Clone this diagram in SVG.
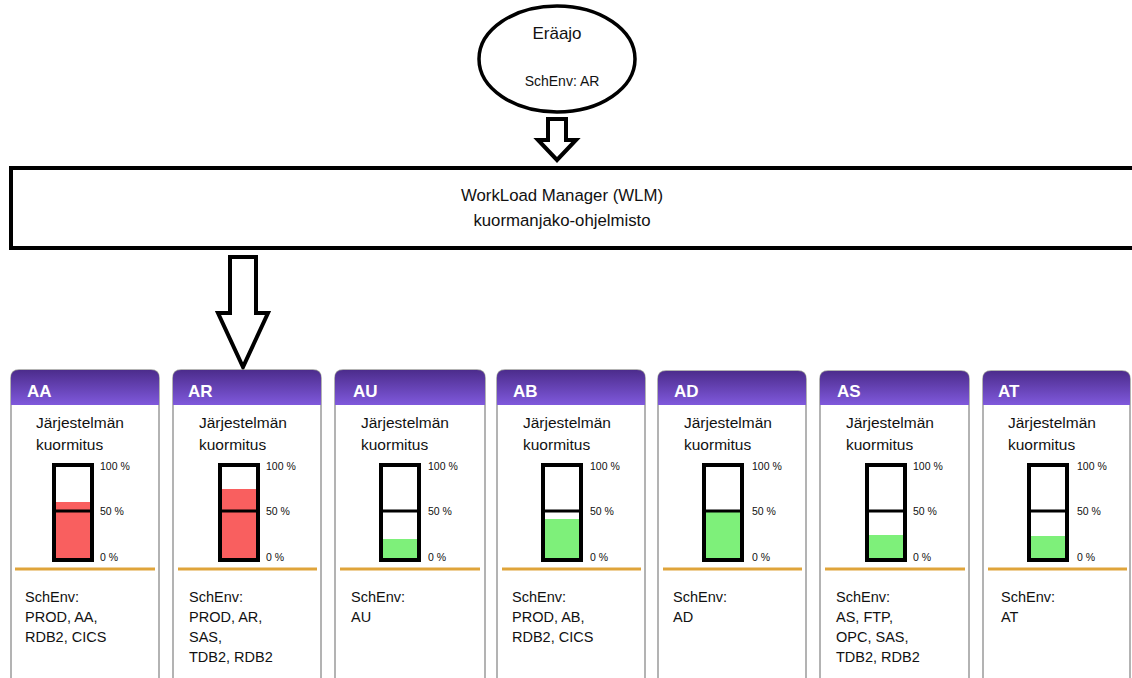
<svg xmlns="http://www.w3.org/2000/svg" width="1132" height="678" viewBox="0 0 1132 678">
  <style>
    .lbl{font-family:"Liberation Sans",Arial,sans-serif;fill:#111}
    .title{font-family:"Liberation Sans",Arial,sans-serif;font-weight:bold;font-size:17px;fill:#fff}
    .load{font-size:15.5px}
    .env{font-size:14.5px}
    .pct{font-family:"Liberation Sans",Arial,sans-serif;font-size:10.5px;fill:#111}
    .card{fill:#fff;stroke:#9a9a9a;stroke-width:1.5}
    .head{fill:url(#hdr)}
    .gauge{fill:none;stroke:#000;stroke-width:4}
    .mid{stroke:#000;stroke-width:3}
    .sep{stroke:#dfa43a;stroke-width:3}
    .red{fill:#f95f5f}
    .green{fill:#7ef07a}
    .block{fill:#fff;stroke:#000;stroke-width:4;stroke-linejoin:miter}
  </style>
  <defs>
    <linearGradient id="hdr" x1="0" y1="0" x2="0" y2="1">
      <stop offset="0" stop-color="#4c2c8c"/>
      <stop offset="1" stop-color="#7f59dc"/>
    </linearGradient>
  </defs>
  <rect width="1132" height="678" fill="#fff"/>

  <!-- batch job -->
  <g id="eraajo">
    <ellipse cx="557" cy="59" rx="78" ry="53" fill="#fff" stroke="#000" stroke-width="3.5"/>
    <text class="lbl" x="557" y="39" text-anchor="middle" font-size="17">Eräajo</text>
    <text class="lbl" x="562" y="86" text-anchor="middle" font-size="14" fill="#333">SchEnv: AR</text>
  </g>

  <!-- workload manager bar -->
  <g id="wlm">
    <rect x="11" y="168" width="1140" height="80" fill="#fff" stroke="#000" stroke-width="4"/>
    <text class="lbl" x="562" y="201" text-anchor="middle" font-size="16.8">WorkLoad Manager (WLM)</text>
    <text class="lbl" x="562" y="226" text-anchor="middle" font-size="16.8">kuormanjako-ohjelmisto</text>
  </g>

  <!-- connectors -->
  <g id="connectors">
    <path class="block" stroke-width="3" d="M548,119 H566 V140 H576 L557,160 L538,140 H548 Z"/>
    <path class="block" d="M230,257 H256 V313 H268 L243,367 L218,313 H230 Z"/>
  </g>

  <!-- system AA -->
  <g id="AA">
    <path class="card" d="M11,690 V378 Q11,370 19,370 H151 Q159,370 159,378 V690"/>
    <path class="head" d="M11,405 V378 Q11,370 19,370 H151 Q159,370 159,378 V405 Z"/>
    <text class="title" x="27" y="397">AA</text>
    <text class="lbl load" x="36" y="428">Järjestelmän</text>
    <text class="lbl load" x="36" y="450">kuormitus</text>
    <rect class="red" x="54" y="502" width="38" height="58"/>
    <rect class="gauge" x="54" y="465" width="38" height="95"/>
    <line class="mid" x1="54" y1="511" x2="92" y2="511"/>
    <text class="pct" x="100" y="470">100 %</text>
    <text class="pct" x="100" y="515">50 %</text>
    <text class="pct" x="100" y="561">0 %</text>
    <line class="sep" x1="15" y1="569" x2="155" y2="569"/>
    <text class="lbl env" x="25" y="602">SchEnv:</text>
    <text class="lbl env" x="25" y="622">PROD, AA,</text>
    <text class="lbl env" x="25" y="642">RDB2, CICS</text>
  </g>

  <!-- system AR -->
  <g id="AR">
    <path class="card" d="M173,690 V378 Q173,370 181,370 H313 Q321,370 321,378 V690"/>
    <path class="head" d="M173,405 V378 Q173,370 181,370 H313 Q321,370 321,378 V405 Z"/>
    <text class="title" x="188" y="397">AR</text>
    <text class="lbl load" x="199" y="428">Järjestelmän</text>
    <text class="lbl load" x="199" y="450">kuormitus</text>
    <rect class="red" x="220" y="489" width="38" height="71"/>
    <rect class="gauge" x="220" y="465" width="38" height="95"/>
    <line class="mid" x1="220" y1="511" x2="258" y2="511"/>
    <text class="pct" x="266" y="470">100 %</text>
    <text class="pct" x="266" y="515">50 %</text>
    <text class="pct" x="266" y="561">0 %</text>
    <line class="sep" x1="178" y1="569" x2="317" y2="569"/>
    <text class="lbl env" x="189" y="602">SchEnv:</text>
    <text class="lbl env" x="189" y="622">PROD, AR,</text>
    <text class="lbl env" x="189" y="642">SAS,</text>
    <text class="lbl env" x="189" y="662">TDB2, RDB2</text>
  </g>

  <!-- system AU -->
  <g id="AU">
    <path class="card" d="M335,690 V378 Q335,370 343,370 H477 Q485,370 485,378 V690"/>
    <path class="head" d="M335,405 V378 Q335,370 343,370 H477 Q485,370 485,378 V405 Z"/>
    <text class="title" x="353" y="397">AU</text>
    <text class="lbl load" x="361" y="428">Järjestelmän</text>
    <text class="lbl load" x="361" y="450">kuormitus</text>
    <rect class="green" x="381" y="539" width="38" height="21"/>
    <rect class="gauge" x="381" y="465" width="38" height="95"/>
    <line class="mid" x1="381" y1="511" x2="419" y2="511"/>
    <text class="pct" x="428" y="470">100 %</text>
    <text class="pct" x="428" y="515">50 %</text>
    <text class="pct" x="428" y="561">0 %</text>
    <line class="sep" x1="340" y1="569" x2="480" y2="569"/>
    <text class="lbl env" x="351" y="602">SchEnv:</text>
    <text class="lbl env" x="351" y="622">AU</text>
  </g>

  <!-- system AB -->
  <g id="AB">
    <path class="card" d="M497,690 V378 Q497,370 505,370 H637 Q645,370 645,378 V690"/>
    <path class="head" d="M497,405 V378 Q497,370 505,370 H637 Q645,370 645,378 V405 Z"/>
    <text class="title" x="513" y="397">AB</text>
    <text class="lbl load" x="523" y="428">Järjestelmän</text>
    <text class="lbl load" x="523" y="450">kuormitus</text>
    <rect class="green" x="543" y="519" width="38" height="41"/>
    <rect class="gauge" x="543" y="465" width="38" height="95"/>
    <line class="mid" x1="543" y1="511" x2="581" y2="511"/>
    <text class="pct" x="590" y="470">100 %</text>
    <text class="pct" x="590" y="515">50 %</text>
    <text class="pct" x="590" y="561">0 %</text>
    <line class="sep" x1="502" y1="569" x2="641" y2="569"/>
    <text class="lbl env" x="512" y="602">SchEnv:</text>
    <text class="lbl env" x="512" y="622">PROD, AB,</text>
    <text class="lbl env" x="512" y="642">RDB2, CICS</text>
  </g>

  <!-- system AD -->
  <g id="AD">
    <path class="card" d="M658,690 V379 Q658,371 666,371 H798 Q806,371 806,379 V690"/>
    <path class="head" d="M658,405 V379 Q658,371 666,371 H798 Q806,371 806,379 V405 Z"/>
    <text class="title" x="674" y="397">AD</text>
    <text class="lbl load" x="684" y="428">Järjestelmän</text>
    <text class="lbl load" x="684" y="450">kuormitus</text>
    <rect class="green" x="704" y="511" width="38" height="49"/>
    <rect class="gauge" x="704" y="465" width="38" height="95"/>
    <line class="mid" x1="704" y1="511" x2="742" y2="511"/>
    <text class="pct" x="752" y="470">100 %</text>
    <text class="pct" x="752" y="515">50 %</text>
    <text class="pct" x="752" y="561">0 %</text>
    <line class="sep" x1="663" y1="569" x2="802" y2="569"/>
    <text class="lbl env" x="673" y="602">SchEnv:</text>
    <text class="lbl env" x="673" y="622">AD</text>
  </g>

  <!-- system AS -->
  <g id="AS">
    <path class="card" d="M820,690 V379 Q820,371 828,371 H961 Q969,371 969,379 V690"/>
    <path class="head" d="M820,405 V379 Q820,371 828,371 H961 Q969,371 969,379 V405 Z"/>
    <text class="title" x="837" y="397">AS</text>
    <text class="lbl load" x="846" y="428">Järjestelmän</text>
    <text class="lbl load" x="846" y="450">kuormitus</text>
    <rect class="green" x="867" y="535" width="38" height="25"/>
    <rect class="gauge" x="867" y="465" width="38" height="95"/>
    <line class="mid" x1="867" y1="511" x2="905" y2="511"/>
    <text class="pct" x="913" y="470">100 %</text>
    <text class="pct" x="913" y="515">50 %</text>
    <text class="pct" x="913" y="561">0 %</text>
    <line class="sep" x1="825" y1="569" x2="965" y2="569"/>
    <text class="lbl env" x="836" y="602">SchEnv:</text>
    <text class="lbl env" x="836" y="622">AS, FTP,</text>
    <text class="lbl env" x="836" y="642">OPC, SAS,</text>
    <text class="lbl env" x="836" y="662">TDB2, RDB2</text>
  </g>

  <!-- system AT -->
  <g id="AT">
    <path class="card" d="M983,690 V379 Q983,371 991,371 H1122 Q1130,371 1130,379 V690"/>
    <path class="head" d="M983,405 V379 Q983,371 991,371 H1122 Q1130,371 1130,379 V405 Z"/>
    <text class="title" x="998" y="397">AT</text>
    <text class="lbl load" x="1008" y="428">Järjestelmän</text>
    <text class="lbl load" x="1008" y="450">kuormitus</text>
    <rect class="green" x="1029" y="536" width="38" height="24"/>
    <rect class="gauge" x="1029" y="465" width="38" height="95"/>
    <line class="mid" x1="1029" y1="511" x2="1067" y2="511"/>
    <text class="pct" x="1077" y="470">100 %</text>
    <text class="pct" x="1077" y="515">50 %</text>
    <text class="pct" x="1077" y="561">0 %</text>
    <line class="sep" x1="988" y1="569" x2="1127" y2="569"/>
    <text class="lbl env" x="1001" y="602">SchEnv:</text>
    <text class="lbl env" x="1001" y="622">AT</text>
  </g>
</svg>
